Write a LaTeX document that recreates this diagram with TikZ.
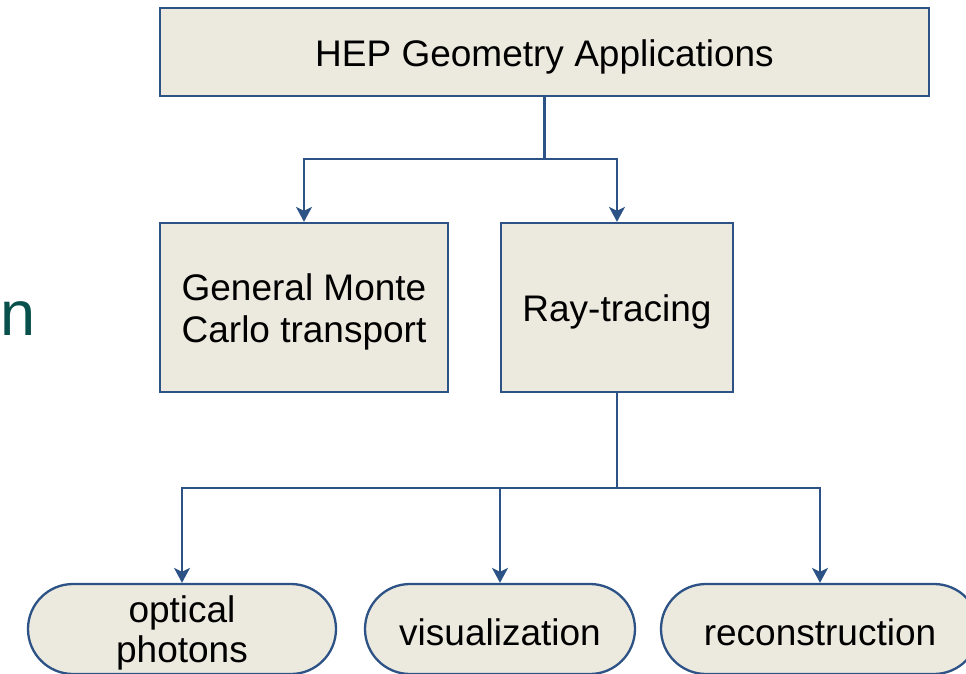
\documentclass[tikz,border=0pt]{standalone}
\usepackage{fontspec}
\setmainfont{Liberation Sans}
\usetikzlibrary{arrows.meta}
\definecolor{boxfill}{RGB}{236,234,223}
\definecolor{boxline}{RGB}{44,82,134}
\definecolor{tealtext}{RGB}{8,80,76}
\tikzset{
  x=1pt, y=-1pt,
  base/.style={draw=boxline, fill=boxfill, line width=2.3pt, inner sep=0pt},
  squarebox/.style={base, rectangle},
  pill/.style={base, rectangle, rounded corners=45pt, minimum height=90pt},
  boxtext/.style={inner sep=0pt, align=center, text=black,
    font=\fontsize{37}{42}\selectfont},
  pilltext/.style={boxtext, font=\fontsize{37}{40}\selectfont},
  link/.style={draw=boxline, line width=2.3pt},
  arrowlink/.style={link, -{Stealth[length=15pt,width=16pt,inset=4pt]}},
}
\begin{document}
\begin{tikzpicture}
\useasboundingbox (0,0) rectangle (966,674);
\clip (0,0) rectangle (966,674);

% trailing letter of a heading on the left
\node[text=tealtext, font=\fontsize{63}{63}\selectfont, anchor=base, inner sep=0pt] (tail) at (18,335) {n};

% boxes
\node[squarebox, minimum width=769pt, minimum height=88pt] (top) at (544.5,52) {};
\node[squarebox, minimum width=288pt, minimum height=169pt] (gmc) at (304,307.5) {};
\node[squarebox, minimum width=232pt, minimum height=169pt] (ray) at (617,307.5) {};

% rounded leaves
\node[pill, minimum width=308pt] (opt) at (182,629) {};
\node[pill, minimum width=270pt] (vis) at (500,629) {};
\node[pill, minimum width=318pt] (rec) at (820,629) {};

% box captions, set a little below each box centre
\node[boxtext] (top-t) at ([yshift=-4.5pt]top.center) {HEP Geometry Applications};
\node[boxtext] (gmc-t) at ([yshift=-4.5pt]gmc.center) {General Monte\\Carlo transport};
\node[boxtext] (ray-t) at ([yshift=-4.5pt]ray.center) {Ray-tracing};
\node[pilltext] (opt-t) at ([yshift=-4pt]opt.center) {optical\\photons};
\node[pilltext] (vis-t) at ([yshift=-3pt]vis.center) {visualization};
\node[pilltext] (rec-t) at ([yshift=-3pt]rec.center) {reconstruction};

% connectors
\coordinate (j1) at (top.south |- 0,159);
\coordinate (j2) at (ray.south |- 0,488);
\draw[link] (top.south) -- (j1);
\draw[arrowlink] (j1) -| (gmc.north);
\draw[arrowlink] (j1) -| (ray.north);
\draw[link] (ray.south) -- (j2);
\draw[arrowlink] (j2) -| (opt.north);
\draw[arrowlink] (j2) -| (vis.north);
\draw[arrowlink] (j2) -| (rec.north);
\end{tikzpicture}
\end{document}
